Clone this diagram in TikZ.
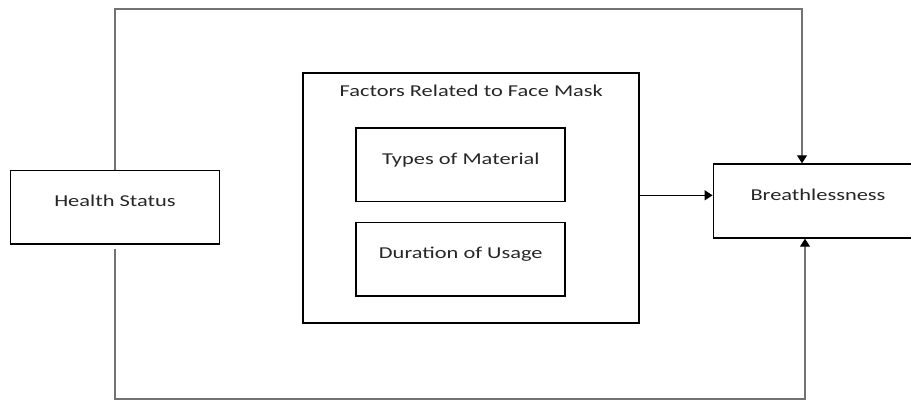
\documentclass[tikz,border=0pt]{standalone}
\usepackage{fontspec}
\setmainfont{Carlito}[FakeStretch=1.35]
\usetikzlibrary{positioning,arrows.meta,calc}

\begin{document}
\begin{tikzpicture}[x=0.5pt, y=0.5pt, thick, >={Triangle[width=5pt,length=4pt,black]},
    box/.style={draw, line width=0.9pt, inner sep=0pt, minimum width=104.5pt, minimum height=36.8pt,
      text height=4pt, text depth=4.5pt, text=black!85, font=\fontsize{8.3}{10}\selectfont},
    link/.style={draw=black!55, line width=0.6pt}]
            \useasboundingbox (0,0) rectangle (911,400);
            % Nodes
            \node[box] (health) at (115,192.7) {Health Status};
            \node[box, minimum width=168pt, minimum height=124.7pt] (factors) at (471.3,202) {};
            \node[box, draw=none, minimum width=0pt, minimum height=0pt, below=7.6pt of factors.north] (title) {Factors Related to Face Mask};
            \node[box] (types) at (460.8,235.2) {Types of Material};
            \node[box, below=9.6pt of types] (duration) {Duration of Usage};
            \node[box] (breath) at (818,199) {Breathlessness};
            \coordinate (top) at (802,391);
            \coordinate (bottom) at (805,1);
            \coordinate (into) at ($(breath.west)+(0,5.7)$);
          % Arrows
          \draw[link, ->] (health.north) |- (top) -- (top |- breath.north);
          \draw[link, ->, shorten <=2pt] (health.south) |- (bottom) -- (bottom |- breath.south);
          \draw[->, line width=0.6pt] (factors.east |- into) -- (into);
        \end{tikzpicture}
\end{document}
